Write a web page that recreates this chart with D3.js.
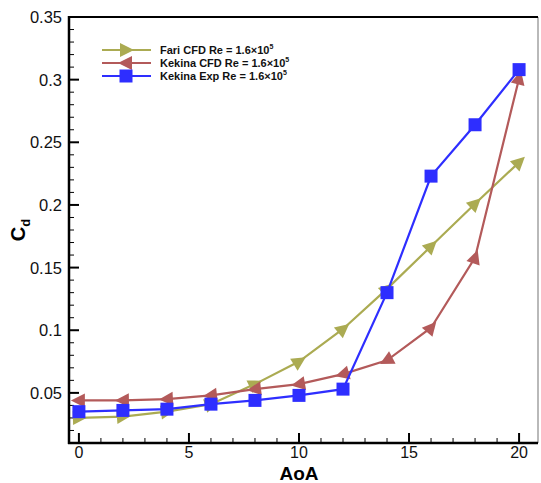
<!DOCTYPE html>
<html>
<head>
<meta charset="utf-8">
<script src="https://cdn.jsdelivr.net/npm/d3@7"></script>
<style>
  html, body { margin: 0; padding: 0; background: #fff; }
  svg { display: block; font-family: "Liberation Sans", Arial, sans-serif; }
</style>
</head>
<body>
<svg id="chart" width="541" height="483"></svg>
<script>
// Drag coefficient vs angle of attack
const aoa = [0, 2, 4, 6, 8, 10, 12, 14, 16, 18, 20];
const fariCFD = [0.030, 0.031, 0.035, 0.041, 0.057, 0.075, 0.101, 0.133, 0.167, 0.201, 0.234];
const kekinaCFD = [0.044, 0.044, 0.045, 0.048, 0.053, 0.057, 0.065, 0.076, 0.102, 0.158, 0.301];
const kekinaExp = [0.035, 0.036, 0.037, 0.041, 0.044, 0.048, 0.053, 0.130, 0.223, 0.264, 0.308];
const xTicks = [0, 5, 10, 15, 20];
const yTicks = [0.05, 0.1, 0.15, 0.2, 0.25, 0.3, 0.35];
const yTickLabels = ["0.05", "0.1", "0.15", "0.2", "0.25", "0.3", "0.35"];

const series = [
  { name: "Fari CFD Re = 1.6\u00d710", values: fariCFD, color: "#abab52", marker: "triRight" },
  { name: "Kekina CFD Re = 1.6\u00d710", values: kekinaCFD, color: "#b35a5a", marker: "triLeft" },
  { name: "Kekina Exp Re = 1.6\u00d710", values: kekinaExp, color: "#2e2eff", marker: "square" }
];

const svg = d3.select("#chart");
const L = 69, R = 538, T = 17, B = 443;

const x = d3.scaleLinear().domain([-0.45, 20.86]).range([L, R]);
const y = d3.scaleLinear().domain([0.01, 0.35]).range([B, T]);

// Inward ticks: minor and major
const g = svg.append("g");
const xMinor = d3.range(0, 21, 1).filter(v => v % 5 !== 0);
const yMinor = d3.range(0.02, 0.345, 0.01).filter(v => Math.abs(Math.round(v * 100) % 5) !== 0);

g.selectAll(".xminor").data(xMinor).enter().append("line")
  .attr("x1", d => x(d)).attr("x2", d => x(d))
  .attr("y1", B).attr("y2", B - 5)
  .attr("stroke", "#000").attr("stroke-width", 1);
g.selectAll(".xmajor").data(xTicks).enter().append("line")
  .attr("x1", d => x(d)).attr("x2", d => x(d))
  .attr("y1", B).attr("y2", B - 10)
  .attr("stroke", "#000").attr("stroke-width", 2);
g.selectAll(".yminor").data(yMinor).enter().append("line")
  .attr("x1", L).attr("x2", L + 5)
  .attr("y1", d => y(d)).attr("y2", d => y(d))
  .attr("stroke", "#000").attr("stroke-width", 1);
g.selectAll(".ymajor").data(yTicks).enter().append("line")
  .attr("x1", L).attr("x2", L + 10)
  .attr("y1", d => y(d)).attr("y2", d => y(d))
  .attr("stroke", "#000").attr("stroke-width", 2);

// Tick labels
g.selectAll(".xlab").data(xTicks).enter().append("text")
  .attr("x", d => x(d)).attr("y", 458)
  .attr("text-anchor", "middle").attr("font-size", 16).attr("fill", "#111")
  .text(d => d);
g.selectAll(".ylab").data(yTicks).enter().append("text")
  .attr("x", 62).attr("y", d => y(d) + 6)
  .attr("text-anchor", "end").attr("font-size", 16.5).attr("fill", "#111")
  .text((d, i) => yTickLabels[i]);

// Axis titles
svg.append("text").attr("x", x(10)).attr("y", 480)
  .attr("text-anchor", "middle").attr("font-size", 19).attr("font-weight", "bold")
  .text("AoA");
const yt = svg.append("text")
  .attr("transform", `translate(25,${(T + B) / 2}) rotate(-90)`)
  .attr("text-anchor", "middle").attr("font-size", 20).attr("font-weight", "bold");
yt.append("tspan").text("C");
yt.append("tspan").attr("font-size", 13).attr("dy", 5).text("d");

// Marker shapes
function markerPath(type) {
  if (type === "square") return "M-6.5,-6.5H6.5V6.5H-6.5Z";
  if (type === "triRight") return "M8,0L-6,-7L-6,7Z";
  return "M-8,0L6,-7L6,7Z";
}

const lineGen = d3.line().x((d, i) => x(aoa[i])).y(d => y(d));

series.forEach((s, si) => {
  const sg = svg.append("g");
  sg.append("path").datum(s.values)
    .attr("d", lineGen)
    .attr("fill", "none").attr("stroke", s.color).attr("stroke-width", 2.2);

  const pts = s.values.map((v, i) => [x(aoa[i]), y(v)]);
  sg.selectAll("path.m").data(pts).enter().append("path")
    .attr("class", "m")
    .attr("d", markerPath(s.marker))
    .attr("fill", s.color)
    .attr("transform", (p, i) => {
      if (s.marker === "square") return `translate(${p[0]},${p[1]})`;
      const a = pts[Math.max(0, i - 1)], b = pts[Math.min(pts.length - 1, i + 1)];
      let ang = Math.atan2(b[1] - a[1], b[0] - a[0]) * 180 / Math.PI;
      // left-pointing arrowheads turn forward where the curve climbs steeply
      if (s.marker === "triLeft" && ang < -45) ang += 180;
      return `translate(${p[0]},${p[1]}) rotate(${ang})`;
    });
});

// Frame
svg.append("line").attr("x1", R).attr("x2", R).attr("y1", T).attr("y2", B)
  .attr("stroke", "#8a8a8a").attr("stroke-width", 1.2);
svg.append("line").attr("x1", L).attr("x2", R).attr("y1", T).attr("y2", T)
  .attr("stroke", "#000").attr("stroke-width", 2.2);
svg.append("line").attr("x1", L).attr("x2", L).attr("y1", T - 1).attr("y2", B + 1)
  .attr("stroke", "#000").attr("stroke-width", 2.5);
svg.append("line").attr("x1", L - 1).attr("x2", R).attr("y1", B).attr("y2", B)
  .attr("stroke", "#000").attr("stroke-width", 2.5);

// Legend
const lg = svg.append("g");
series.forEach((s, i) => {
  const ly = 50 + i * 13;
  lg.append("line").attr("x1", 102).attr("x2", 151).attr("y1", ly).attr("y2", ly)
    .attr("stroke", s.color).attr("stroke-width", 2.2);
  lg.append("path").attr("d", markerPath(s.marker))
    .attr("transform", `translate(126,${ly})`).attr("fill", s.color);
  const t = lg.append("text").attr("x", 160).attr("y", ly + 4)
    .attr("font-size", 11).attr("font-weight", "bold").attr("fill", "#111");
  t.append("tspan").text(s.name);
  t.append("tspan").attr("font-size", 7).attr("dy", -5).text("5");
});
</script>
</body>
</html>
